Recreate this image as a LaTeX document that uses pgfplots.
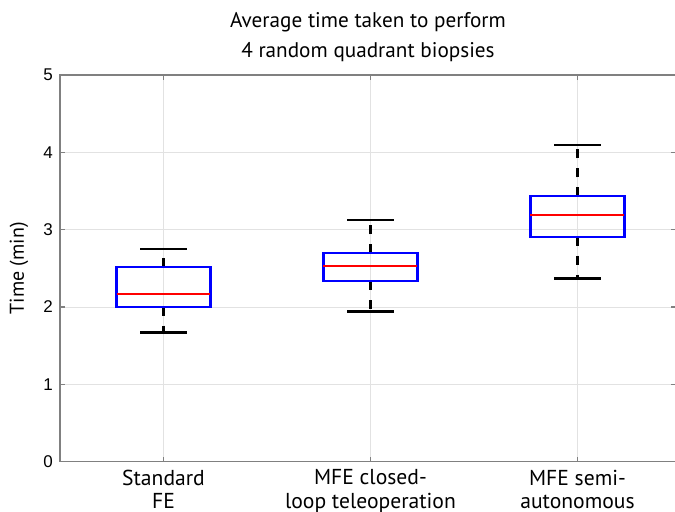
\documentclass[border=0pt]{standalone}
\usepackage{pgfplots}
\pgfplotsset{compat=1.18}
\usepgfplotslibrary{statistics}
\usepackage{fontspec}
\setmainfont{PT Sans}
\newfontfamily\tickfont{Liberation Sans}
\definecolor{axgray}{RGB}{128,128,128}
\definecolor{gridgray}{RGB}{226,226,226}
\pgfplotsset{
  mybox/.style={
    boxplot/draw direction=y,
    boxplot/box extend=0.454,
    boxplot/whisker extend=0.226,
    boxplot/draw/box/.code={%
      \draw[blue, line width=1.05pt]
        (boxplot box cs:\pgfplotsboxplotvalue{lower quartile},0)
        rectangle
        (boxplot box cs:\pgfplotsboxplotvalue{upper quartile},1);
    },
    boxplot/draw/median/.code={%
      \draw[red, line width=1.05pt]
        (boxplot box cs:\pgfplotsboxplotvalue{median},0)
        --
        (boxplot box cs:\pgfplotsboxplotvalue{median},1);
    },
    boxplot/draw/lower whisker/.code={%
      \draw[black, line width=1.6pt, dash pattern=on 4.5pt off 5pt]
        (boxplot cs:\pgfplotsboxplotvalue{lower quartile})
        --
        (boxplot cs:\pgfplotsboxplotvalue{lower whisker});
      \draw[black, line width=1.3pt]
        (boxplot whisker cs:\pgfplotsboxplotvalue{lower whisker},0)
        --
        (boxplot whisker cs:\pgfplotsboxplotvalue{lower whisker},1);
    },
    boxplot/draw/upper whisker/.code={%
      \draw[black, line width=1.6pt, dash pattern=on 4.5pt off 5pt]
        (boxplot cs:\pgfplotsboxplotvalue{upper quartile})
        --
        (boxplot cs:\pgfplotsboxplotvalue{upper whisker});
      \draw[black, line width=1.3pt]
        (boxplot whisker cs:\pgfplotsboxplotvalue{upper whisker},0)
        --
        (boxplot whisker cs:\pgfplotsboxplotvalue{upper whisker},1);
    },
  }
}
\begin{document}
\begin{tikzpicture}
\begin{axis}[
  scale only axis,
  width=308pt, height=193.35pt,
  xmin=0.5, xmax=3.476, ymin=0, ymax=5,
  xtick={1,2,3},
  xticklabels={Standard\\FE, MFE closed-\\loop teleoperation, MFE semi-\\autonomous},
  xticklabel style={align=center, font=\fontsize{10.8}{11.6}\selectfont, yshift=-0.5pt},
  ytick={0,1,2,3,4,5},
  yticklabel style={font=\fontsize{8.5}{10}\selectfont\tickfont},
  /pgf/number format/assume math mode=true,
  grid=major,
  major grid style={gridgray, line width=0.5pt},
  axis line style={axgray, line width=0.6pt},
  tick style={axgray, line width=0.6pt},
  tick align=inside,
  major tick length=2.5pt,
  title={Average time taken to perform\\4 random quadrant biopsies},
  title style={align=center, font=\fontsize{10.6}{15}\selectfont, yshift=-3pt},
  ylabel={Time (min)},
  ylabel style={font=\fontsize{10.8}{12}\selectfont},
  every axis y label/.style={at={(axis description cs:-0.0667,0.5)}, rotate=90, anchor=center},
]
\addplot+[mybox, boxplot prepared={draw position=1, median=2.168, upper quartile=2.513, lower quartile=2.004, upper whisker=2.75, lower whisker=1.668}] coordinates {};
\addplot+[mybox, boxplot prepared={draw position=2, median=2.53, upper quartile=2.695, lower quartile=2.336, upper whisker=3.125, lower whisker=1.945}] coordinates {};
\addplot+[mybox, boxplot prepared={draw position=3, median=3.19, upper quartile=3.43, lower quartile=2.91, upper whisker=4.095, lower whisker=2.366}] coordinates {};
\end{axis}
\pgfresetboundingbox
\path (current axis.south west) ++(-30pt,-25.15pt) rectangle ++(337.5pt,256pt);
\end{tikzpicture}
\end{document}
